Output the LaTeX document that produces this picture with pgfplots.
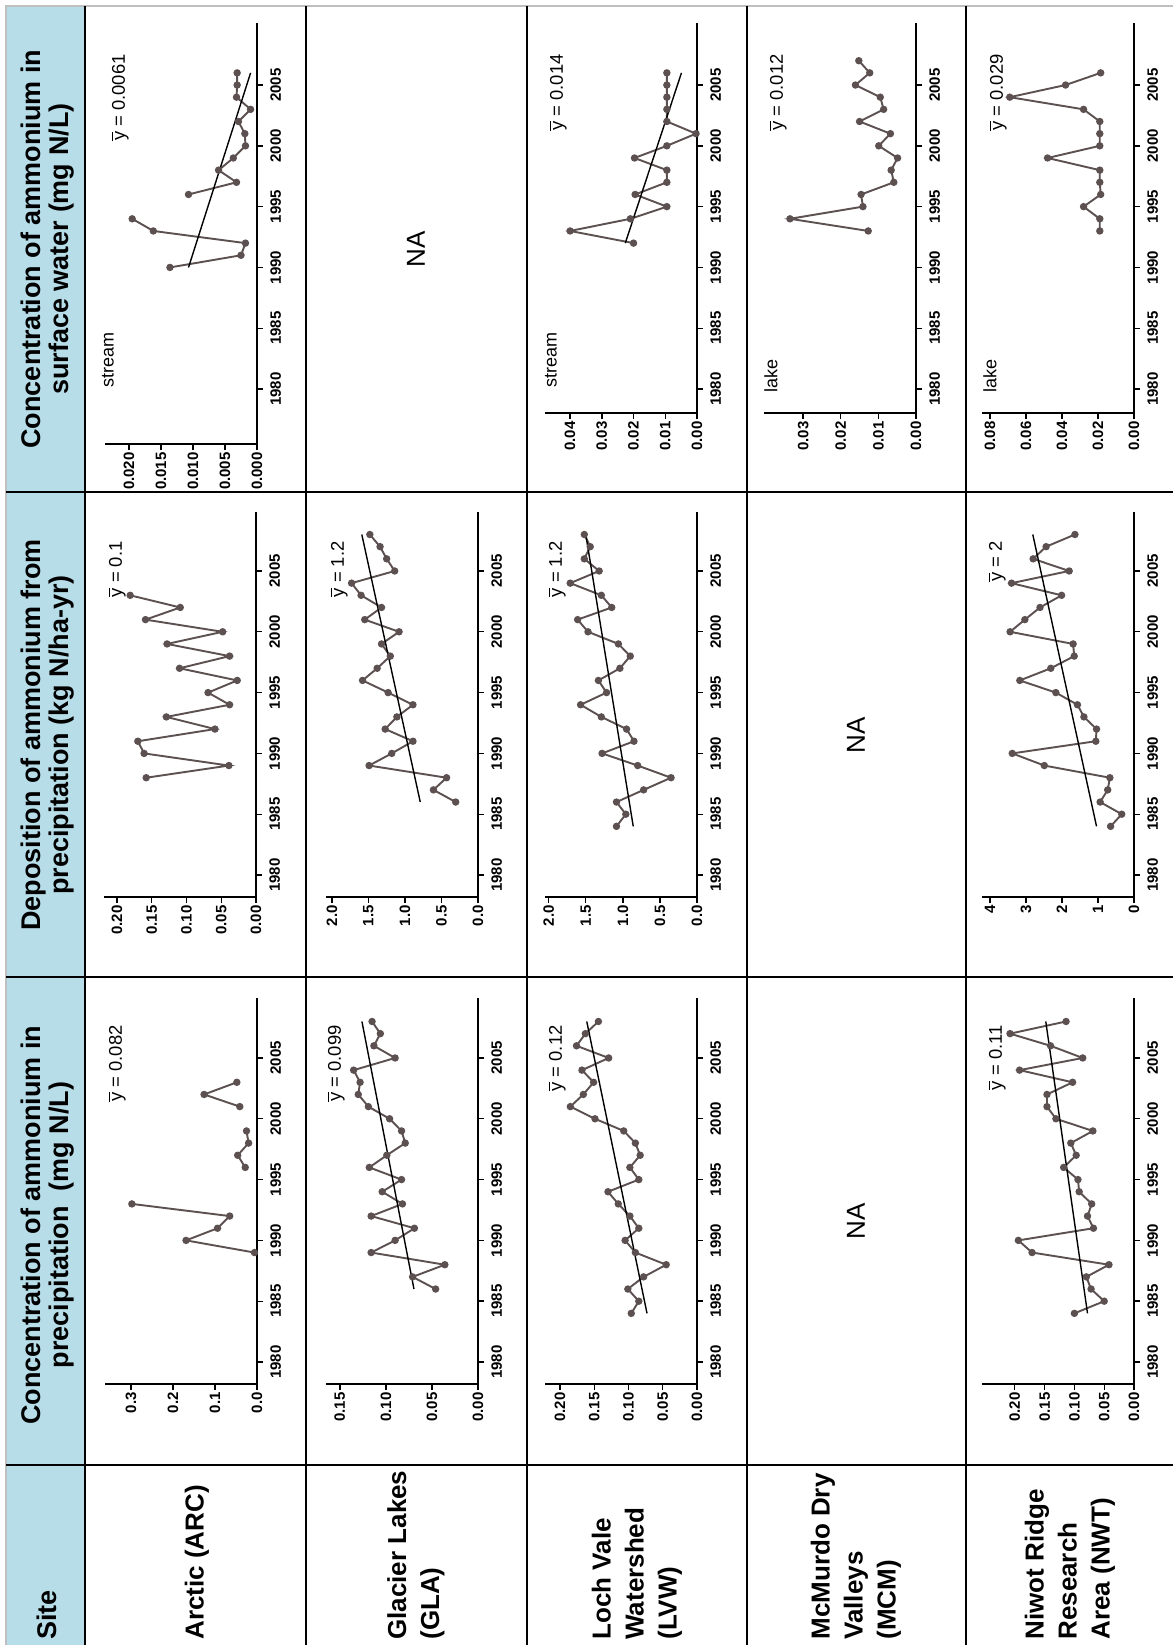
\documentclass[border=0pt]{standalone}
\usepackage{fontspec}
\setmainfont{Liberation Sans}
\usepackage{pgfplots}
\pgfplotsset{compat=1.18}
\definecolor{hdr}{RGB}{183,221,232}
\definecolor{dat}{RGB}{92,80,80}
\newcommand\tl{\fontsize{7.5}{8}\selectfont\bfseries}
\newcommand\hf{\fontsize{13.5}{14}\selectfont\bfseries}
\newcommand\sitef{\fontsize{13}{16.5}\selectfont\bfseries}
\newcommand\ybf{\fontsize{9.2}{10}\selectfont}
\newcommand\yb{\ensuremath{\overline{\mbox{y}}}}
\pgfplotsset{
 panel/.style={
  scale only axis, enlargelimits=false, clip=false,
  x dir=reverse, scaled ticks=false,
  axis x line=bottom, axis y line=right,
  axis line style={-, line width=0.9pt, black},
  tick align=outside, major tick length=3pt,
  tick style={line width=0.7pt, black},
  xmin=0, width=76pt,
  ytick={1980,1985,1990,1995,2000,2005},
  yticklabels={1980,1985,1990,1995,2000,2005},
  yticklabel style={rotate=90, anchor=north, font=\tl, inner sep=3.5pt},
  xticklabel style={rotate=90, anchor=east, font=\tl, inner sep=1pt},
  unbounded coords=jump,
  anchor=south east,
 },
 surf/.style={height=195pt, ymin=1978.03, ymax=2010.1},
 dep/.style={height=192.5pt, ymin=1978.19, ymax=2009.85},
 prec/.style={height=193pt, ymin=1978.19, ymax=2009.93},
 ser/.style={color=dat, line width=0.95pt, mark=*, mark size=1.35pt, mark options={solid, fill=dat, draw=dat}},
 trend/.style={black, line width=0.7pt, no marks},
}
\begin{document}
\begin{tikzpicture}[x=0.5pt,y=0.5pt]
\useasboundingbox (0,0) rectangle (1173,-1645);
\fill[white] (0,0) rectangle (1173,-1645);
\fill[hdr] (6,-6) rectangle (85,-1645);
\draw[gray!50, line width=0.6pt] (6,-1645) -- (6,-6) -- (1173,-6);
\draw[line width=0.9pt] (85,-6) -- (85,-1645);
\foreach \x in {306,527,747,966} \draw[line width=0.9pt] (\x,-6) -- (\x,-1645);
\foreach \y in {492,977,1465} \draw[line width=0.9pt] (6,-\y) -- (1173,-\y);

% ---------- Arctic ----------
\begin{axis}[panel, at={(128.5pt,-222pt)}, height=210.5pt, ymin=1975.48, ymax=2010.1,
  xmax=0.02375, xtick={0,0.005,0.01,0.015,0.02}, xticklabels={0.000,0.005,0.010,0.015,0.020}]
\addplot[ser] coordinates {(0.0136,1990)(0.0025,1991)(0.0018,1992)(0.0162,1993)(0.0195,1994)(nan,1995)(0.0107,1996)(0.0032,1997)(0.0060,1998)(0.0037,1999)(0.0018,2000)(0.0019,2001)(0.0029,2002)(0.0010,2003)(0.0032,2004)(0.0031,2005)(0.0031,2006)};
\addplot[trend] coordinates {(0.0107,1990)(0.0010,2006)};
\end{axis}
\begin{axis}[panel, dep, at={(128pt,-448.5pt)},
  xmax=0.2187, xtick={0,0.05,0.1,0.15,0.2}, xticklabels={0.00,0.05,0.10,0.15,0.20}]
\addplot[ser] coordinates {(0.158,1988)(0.039,1989)(0.161,1990)(0.170,1991)(0.059,1992)(0.129,1993)(0.038,1994)(0.069,1995)(0.027,1996)(0.110,1997)(0.038,1998)(0.128,1999)(0.048,2000)(0.159,2001)(0.109,2002)(0.181,2003)};
\end{axis}
\begin{axis}[panel, prec, at={(128.5pt,-692pt)},
  xmax=0.362, xtick={0,0.1,0.2,0.3}, xticklabels={0.0,0.1,0.2,0.3}]
\addplot[ser] coordinates {(0.006,1989)(0.169,1990)(0.094,1991)(0.065,1992)(0.298,1993)(nan,1994)(0.028,1996)(0.046,1997)(0.020,1998)(0.025,1999)(nan,2000)(0.041,2001)(0.126,2002)(0.048,2003)};
\end{axis}

% ---------- Glacier Lakes ----------
\begin{axis}[panel, dep, at={(239pt,-448.5pt)},
  xmax=2.08, xtick={0,0.5,1,1.5,2}, xticklabels={0.0,0.5,1.0,1.5,2.0}]
\addplot[ser] coordinates {(0.305,1986)(0.61,1987)(0.43,1988)(1.49,1989)(1.18,1990)(0.89,1991)(1.27,1992)(1.11,1993)(0.89,1994)(1.23,1995)(1.58,1996)(1.38,1997)(1.20,1998)(1.32,1999)(1.08,2000)(1.55,2001)(1.32,2002)(1.60,2003)(1.73,2004)(1.14,2005)(1.25,2006)(1.34,2007)(1.48,2008)};
\addplot[trend] coordinates {(0.79,1986)(1.59,2008)};
\end{axis}
\begin{axis}[panel, prec, at={(239pt,-692pt)},
  xmax=0.165, xtick={0,0.05,0.1,0.15}, xticklabels={0.00,0.05,0.10,0.15}]
\addplot[ser] coordinates {(0.046,1986)(0.071,1987)(0.036,1988)(0.116,1989)(0.090,1990)(0.069,1991)(0.116,1992)(0.082,1993)(0.104,1994)(0.083,1995)(0.118,1996)(0.099,1997)(0.079,1998)(0.083,1999)(0.096,2000)(0.119,2001)(0.130,2002)(0.128,2003)(0.135,2004)(0.090,2005)(0.113,2006)(0.106,2007)(0.115,2008)};
\addplot[trend] coordinates {(0.0695,1986)(0.126,2008)};
\end{axis}

% ---------- Loch Vale ----------
\begin{axis}[panel, surf, at={(348.5pt,-206.5pt)},
  xmax=0.0479, xtick={0,0.01,0.02,0.03,0.04}, xticklabels={0.00,0.01,0.02,0.03,0.04}]
\addplot[ser] coordinates {(0.020,1992)(0.040,1993)(0.021,1994)(0.0095,1995)(0.0195,1996)(0.0095,1997)(0.0095,1998)(0.0197,1999)(0.0095,2000)(0.0003,2001)(0.0095,2002)(0.0095,2003)(0.0095,2004)(0.0095,2005)(0.0095,2006)};
\addplot[trend] coordinates {(0.0226,1992)(0.0049,2006)};
\end{axis}
\begin{axis}[panel, dep, at={(348.5pt,-448.5pt)},
  xmax=2.05, xtick={0,0.5,1,1.5,2}, xticklabels={0.0,0.5,1.0,1.5,2.0}]
\addplot[ser] coordinates {(1.086,1984)(0.96,1985)(1.086,1986)(0.72,1987)(0.35,1988)(0.80,1989)(1.28,1990)(0.85,1991)(0.95,1992)(1.29,1993)(1.57,1994)(1.22,1995)(1.33,1996)(1.04,1997)(0.90,1998)(1.06,1999)(1.47,2000)(1.61,2001)(1.15,2002)(1.29,2003)(1.71,2004)(1.32,2005)(1.52,2006)(1.44,2007)(1.52,2008)};
\addplot[trend] coordinates {(0.86,1984)(1.50,2008)};
\end{axis}
\begin{axis}[panel, prec, at={(348.5pt,-692pt)},
  xmax=0.222, xtick={0,0.05,0.1,0.15,0.2}, xticklabels={0.00,0.05,0.10,0.15,0.20}]
\addplot[ser] coordinates {(0.096,1984)(0.085,1985)(0.101,1986)(0.078,1987)(0.045,1988)(0.090,1989)(0.105,1990)(0.085,1991)(0.098,1992)(0.115,1993)(0.130,1994)(0.085,1995)(0.098,1996)(0.083,1997)(0.090,1998)(0.107,1999)(0.149,2000)(0.185,2001)(0.166,2002)(0.151,2003)(0.168,2004)(0.129,2005)(0.176,2006)(0.163,2007)(0.144,2008)};
\addplot[trend] coordinates {(0.073,1984)(0.161,2008)};
\end{axis}

% ---------- McMurdo ----------
\begin{axis}[panel, surf, at={(458pt,-206.5pt)},
  xmax=0.0404, xtick={0,0.01,0.02,0.03}, xticklabels={0.00,0.01,0.02,0.03}]
\addplot[ser] coordinates {(0.0127,1993)(0.0335,1994)(0.0141,1995)(0.0146,1996)(0.0059,1997)(0.0066,1998)(0.0049,1999)(0.0099,2000)(0.0068,2001)(0.0150,2002)(0.0086,2003)(0.0095,2004)(0.0161,2005)(0.0123,2006)(0.0152,2007)};
\end{axis}

% ---------- Niwot Ridge ----------
\begin{axis}[panel, surf, at={(567pt,-206.5pt)},
  xmax=0.0844, xtick={0,0.02,0.04,0.06,0.08}, xticklabels={0.00,0.02,0.04,0.06,0.08}]
\addplot[ser] coordinates {(0.019,1993)(0.019,1994)(0.028,1995)(0.0185,1996)(0.019,1997)(0.019,1998)(0.048,1999)(0.019,2000)(0.019,2001)(0.019,2002)(0.028,2003)(0.069,2004)(0.038,2005)(0.0185,2006)};
\end{axis}
\begin{axis}[panel, dep, at={(567pt,-448.5pt)},
  xmax=4.22, xtick={0,1,2,3,4}, xticklabels={0,1,2,3,4}]
\addplot[ser] coordinates {(0.65,1984)(0.34,1985)(0.94,1986)(0.73,1987)(0.67,1988)(2.49,1989)(3.38,1990)(1.06,1991)(1.04,1992)(1.39,1993)(1.57,1994)(2.17,1995)(3.17,1996)(2.31,1997)(1.66,1998)(1.69,1999)(3.44,2000)(3.03,2001)(2.61,2002)(2.01,2003)(3.40,2004)(1.80,2005)(2.80,2006)(2.44,2007)(1.64,2008)};
\addplot[trend] coordinates {(1.04,1984)(2.81,2008)};
\end{axis}
\begin{axis}[panel, prec, at={(567pt,-692pt)},
  xmax=0.255, xtick={0,0.05,0.1,0.15,0.2}, xticklabels={0.00,0.05,0.10,0.15,0.20}]
\addplot[ser] coordinates {(0.100,1984)(0.050,1985)(0.072,1986)(0.080,1987)(0.042,1988)(0.171,1989)(0.194,1990)(0.068,1991)(0.078,1992)(0.071,1993)(0.092,1994)(0.094,1995)(0.118,1996)(0.097,1997)(0.106,1998)(0.069,1999)(0.131,2000)(0.146,2001)(0.146,2002)(0.103,2003)(0.192,2004)(0.086,2005)(0.140,2006)(0.208,2007)(0.114,2008)};
\addplot[trend] coordinates {(0.078,1984)(0.148,2008)};
\end{axis}

% ---------- header texts ----------
\node[rotate=90, align=center, font=\hf] at (48,-249) {Concentration of ammonium in\\surface water (mg N/L)};
\node[rotate=90, align=center, font=\hf] at (48,-735) {Deposition of ammonium from\\precipitation (kg N/ha-yr)};
\node[rotate=90, align=center, font=\hf] at (48,-1225) {Concentration of ammonium in\\precipitation\ \ (mg N/L)};
\node[rotate=90, anchor=west, inner sep=0pt, font=\hf] at (47,-1640) {Site};

% ---------- site names ----------
\node[rotate=90, anchor=west, align=left, inner sep=0pt, font=\sitef] at (197,-1640) {Arctic (ARC)};
\node[rotate=90, anchor=west, align=left, inner sep=0pt, font=\sitef] at (416,-1640) {Glacier Lakes\\(GLA)};
\node[rotate=90, anchor=west, align=left, inner sep=0pt, font=\sitef] at (637,-1640) {Loch Vale\\Watershed\\(LVW)};
\node[rotate=90, anchor=west, align=left, inner sep=0pt, font=\sitef] at (856,-1640) {McMurdo Dry\\Valleys\\(MCM)};
\node[rotate=90, anchor=west, align=left, inner sep=0pt, font=\sitef] at (1070,-1640) {Niwot Ridge\\Research\\Area (NWT)};

% ---------- NA ----------
\node[rotate=90, font=\fontsize{13}{15}\selectfont] at (416,-249) {NA};
\node[rotate=90, font=\fontsize{13}{15}\selectfont] at (856,-735) {NA};
\node[rotate=90, font=\fontsize{13}{15}\selectfont] at (856,-1221) {NA};

% ---------- mean labels ----------
\foreach \x/\y/\t in {120/54/0.0061, 117/541/0.1, 117/1025/0.082, 339/541/1.2, 336/1025/0.099,
  558/54/0.014, 557/541/1.2, 557/1025/0.12, 778/54/0.012, 998/54/0.029, 997/541/2, 997/1025/0.11}
  \node[rotate=90, anchor=east, inner sep=0pt, font=\ybf] at (\x,-\y) {\yb\ = \t};

% ---------- stream / lake ----------
\node[rotate=90, anchor=west, inner sep=0pt, font=\fontsize{9}{10}\selectfont] at (108,-388) {stream};
\node[rotate=90, anchor=west, inner sep=0pt, font=\fontsize{9}{10}\selectfont] at (551,-388) {stream};
\node[rotate=90, anchor=west, inner sep=0pt, font=\fontsize{9}{10}\selectfont] at (771,-393) {lake};
\node[rotate=90, anchor=west, inner sep=0pt, font=\fontsize{9}{10}\selectfont] at (990,-393) {lake};
\end{tikzpicture}
\end{document}
